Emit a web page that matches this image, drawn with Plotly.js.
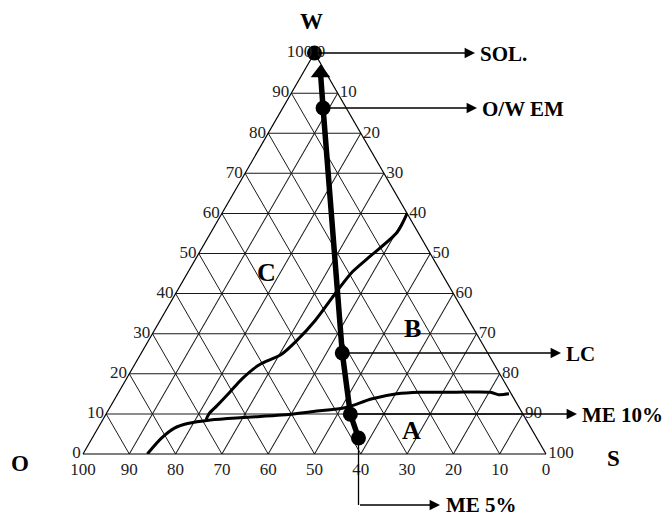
<!DOCTYPE html>
<html><head><meta charset="utf-8">
<script src="https://cdn.plot.ly/plotly-3.0.1.min.js"></script>
<style>html,body{margin:0;padding:0;background:#fff}</style>
</head><body><div id="chart" style="width:671px;height:519px"></div>
<script>
// ---- data (W = water, O = oil, S = surfactant, %) ----
const pathW = [4.0, 9.9, 25.2, 86.3, 95.0];
const pathO = [38.5, 37.3, 31.4, 5.0, 1.2];
const pathS = [57.5, 52.8, 43.4, 8.7, 3.8];

const pointNames = ['ME 5%', 'ME 10%', 'LC', 'O/W EM', 'SOL.'];
const pointW = [4.0, 9.9, 25.2, 86.3, 100];
const pointO = [38.5, 37.3, 31.4, 5.0, 0];
const pointS = [57.5, 52.8, 43.4, 8.7, 0];

const lowerW = [0, 4.0, 6.5, 7.6, 8.5, 9.1, 9.7, 10.6, 11.6, 13.7, 15.0, 15.4, 15.4, 15.4, 14.8, 15.0];
const lowerO = [86.1, 81.0, 76.9, 73.6, 68.2, 61.0, 52.3, 44.9, 37.4, 30.9, 24.7, 19.6, 12.6, 4.3, 2.8, 0.5];
const lowerS = [13.9, 15.0, 16.6, 18.8, 23.3, 29.9, 38.0, 44.5, 51.0, 55.4, 60.3, 65.0, 72.0, 80.3, 82.4, 84.5];

const upperW = [8.6, 10.0, 12.0, 15.4, 18.8, 22.2, 24.8, 28.2, 33.3, 40.9, 45.5, 49.4, 55.3, 60.0];
const upperO = [69.1, 67.8, 65.1, 60.6, 56.2, 50.9, 44.8, 39.8, 33.2, 24.5, 19.0, 13.2, 4.5, 0];
const upperS = [22.3, 22.2, 22.9, 24.0, 25.0, 26.9, 30.4, 32.0, 33.5, 34.6, 35.5, 37.4, 40.2, 40.0];

const tickVals = [0, 10, 20, 30, 40, 50, 60, 70, 80, 90, 100];
const regionLabels = ['A', 'B', 'C'];

// ---- layout helpers ----
const PW = 671, PH = 519;
const px = x => x / PW;
const py = y => 1 - y / PH;
const serif = 'Liberation Serif, Times New Roman, serif';

const traces = [
  {type: 'scatterternary', mode: 'lines', a: lowerW, b: lowerO, c: lowerS,
   line: {color: '#000', width: 3, shape: 'spline', smoothing: 0.8}, hoverinfo: 'skip'},
  {type: 'scatterternary', mode: 'lines', a: upperW, b: upperO, c: upperS,
   line: {color: '#000', width: 3, shape: 'spline', smoothing: 0.8}, hoverinfo: 'skip'},
  {type: 'scatterternary', mode: 'lines', a: pathW, b: pathO, c: pathS,
   line: {color: '#000', width: 5.5}, hoverinfo: 'skip', cliponaxis: false},
  {type: 'scatterternary', mode: 'markers', a: [pathW[4]], b: [pathO[4]], c: [pathS[4]],
   marker: {symbol: 'triangle-up', size: 17, color: '#000'}, hoverinfo: 'skip', cliponaxis: false},
  {type: 'scatterternary', mode: 'markers', a: pointW, b: pointO, c: pointS, text: pointNames,
   marker: {symbol: 'circle', size: 15, color: '#000'}, cliponaxis: false}
];

const axisCommon = {
  min: 0, tickmode: 'array', tickvals: tickVals, ticktext: tickVals.map(String),
  showgrid: true, gridcolor: '#1a1a1a', gridwidth: 1,
  showline: true, linecolor: '#000', linewidth: 1.2,
  ticks: '', ticklen: 0,
  tickfont: {family: serif, size: 17, color: '#222'},
  title: {text: ''}
};

// triangle geometry (paper domain), base y = 454 px, width 463 px
const baseY = 454, triW = 463, cx = 314.5;
const triH = triW * Math.sqrt(3) / 2;

// callout arrows: tail (dot) -> head
const callouts = [
  {tx: 314.5, ty: 53, hx: 475, text: 'SOL.'},
  {tx: 323, ty: 108, hx: 477, text: 'O/W EM'},
  {tx: 342, ty: 353, hx: 561, text: 'LC'},
  {tx: 350, ty: 414, hx: 577, text: 'ME 10%'}
];
const arrowStyle = {xref: 'paper', yref: 'paper', ay: 0, text: '', showarrow: true,
  arrowhead: 2, arrowsize: 1.6, arrowwidth: 1.3, arrowcolor: '#000', standoff: 0};
const textFont = {family: serif, size: 21, color: '#000'};
const annotations = [];
callouts.forEach(c => {
  annotations.push(Object.assign({x: px(c.hx), y: py(c.ty), ax: c.tx - c.hx}, arrowStyle));
  annotations.push({xref: 'paper', yref: 'paper', x: px(c.hx + 3), y: py(c.ty + 1), xanchor: 'left', yanchor: 'middle',
    text: '<b>' + c.text + '</b>', showarrow: false, font: textFont});
});
// ME 5%: down then right
annotations.push(Object.assign({x: px(440), y: py(505), ax: 358.5 - 440}, arrowStyle));
annotations.push({xref: 'paper', yref: 'paper', x: px(444), y: py(505), xanchor: 'left', yanchor: 'middle',
  text: '<b>ME 5%</b>', showarrow: false, font: textFont});
// vertex names
[['W', 311, 22], ['O', 20, 463], ['S', 613, 458]].forEach(v => annotations.push({
  xref: 'paper', yref: 'paper', x: px(v[1]), y: py(v[2]), xanchor: 'center', yanchor: 'middle',
  text: '<b>' + v[0] + '</b>', showarrow: false, font: {family: serif, size: 23, color: '#000'}}));
// region labels
const regionPos = [[411, 430], [412, 328], [266, 272]];
regionLabels.forEach((t, i) => annotations.push({
  xref: 'paper', yref: 'paper', x: px(regionPos[i][0]), y: py(regionPos[i][1]), xanchor: 'center', yanchor: 'middle',
  text: '<b>' + t + '</b>', showarrow: false, font: {family: serif, size: 26, color: '#000'}}));

const layout = {
  width: PW, height: PH,
  margin: {l: 0, r: 0, t: 0, b: 0},
  paper_bgcolor: '#fff',
  showlegend: false,
  ternary: {
    sum: 100,
    bgcolor: '#fff',
    domain: {x: [px(cx - triW / 2), px(cx + triW / 2)], y: [py(baseY), py(baseY - triH)]},
    aaxis: Object.assign({}, axisCommon),
    baxis: Object.assign({}, axisCommon),
    caxis: Object.assign({}, axisCommon)
  },
  shapes: [
    {type: 'line', xref: 'paper', yref: 'paper', x0: px(358.5), x1: px(358.5), y0: py(438), y1: py(505),
     line: {color: '#000', width: 1.3}}
  ],
  annotations: annotations
};

Plotly.newPlot('chart', traces, layout, {staticPlot: true});
</script></body></html>
